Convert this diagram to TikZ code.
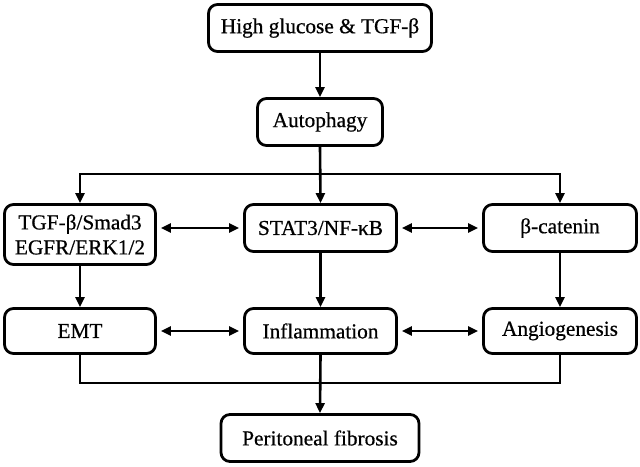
\documentclass[tikz,border=0pt]{standalone}
\usepackage{fontspec}
\setmainfont{Liberation Serif}
\newfontfamily\heavyserif[FakeBold=0.6]{Liberation Serif}
\usetikzlibrary{arrows.meta}
\begin{document}
\begin{tikzpicture}[x=1pt,y=-1pt,
  box/.style={draw, line width=2.8pt, rounded corners=9pt, inner sep=0pt, align=center,
    font=\heavyserif\fontsize{21.3}{25}\selectfont},
  ln/.style={line width=2.6pt},
  tip/.tip={Triangle[length=10pt,width=9pt]},
  arr/.style={ln, -tip},
  dbl/.style={ln, tip-tip, shorten <=4pt, shorten >=4pt}]
\useasboundingbox (0,0) rectangle (640,466);
\node[box, minimum width=223pt, minimum height=47pt] (top) at (320,28) {High glucose \& TGF-β};
\node[box, minimum width=125pt, minimum height=47pt] (auto) at (320,122) {Autophagy};
\node[box, minimum width=151pt, minimum height=60pt] (tgf) at (80,234.5) {TGF-β/Smad3\\EGFR/ERK1/2};
\node[box, minimum width=152pt, minimum height=47pt] (stat) at (320.5,228) {STAT3/NF-κB};
\node[box, minimum width=153pt, minimum height=47pt] (bcat) at (560,228) {β-catenin};
\node[box, minimum width=151pt, minimum height=45pt] (emt) at (80,331) {EMT};
\node[box, minimum width=152pt, minimum height=45pt] (infl) at (320.5,331) {Inflammation};
\node[box, minimum width=153pt, minimum height=45pt] (angio) at (560,331) {Angiogenesis};
\node[box, minimum width=198pt, minimum height=47pt] (fib) at (320,438) {Peritoneal fibrosis};
\coordinate (split) at (320,174);
\coordinate (merge) at (320,383);
% connectors
\draw[arr] (top) -- (auto);
\draw[arr] (auto.south) -- (stat.north);
\draw[arr] (split) -| (tgf.north);
\draw[arr] (split) -| (bcat.north);
\draw[dbl] (stat.west -| tgf.east) -- (stat.west);
\draw[dbl] (stat.east) -- (bcat.west);
\draw[arr] (tgf) -- (emt);
\draw[arr] (stat) -- (infl);
\draw[arr] (bcat) -- (angio);
\draw[dbl] (emt) -- (infl);
\draw[dbl] (infl) -- (angio);
\draw[ln] (emt.south) |- (merge) -| (angio.south);
\draw[arr] (infl.south) -- (fib.north);
\end{tikzpicture}
\end{document}
